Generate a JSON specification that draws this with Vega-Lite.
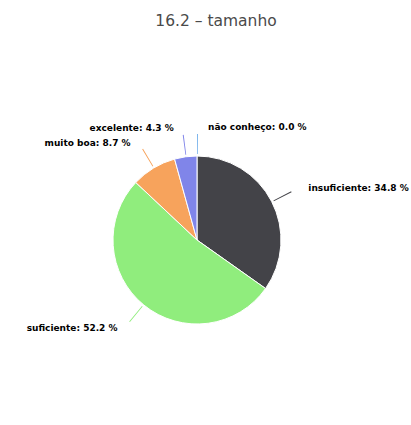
{
  "$schema": "https://vega.github.io/schema/vega-lite/v6.json",
  "width": 394,
  "height": 370,
  "autosize": "none",
  "padding": {"left": 0, "top": 55, "right": 17, "bottom": 0},
  "background": "white",
  "config": {"view": {"stroke": null}},
  "title": {
    "text": "16.2 – tamanho",
    "font": "DejaVu Sans",
    "fontSize": 15.5,
    "fontWeight": "normal",
    "color": "#4a4a4a",
    "anchor": "middle",
    "offset": 26,
    "dx": 19
  },
  "data": {
    "values": [
      {"cat": "não conheço", "value": 0.0, "order": 1},
      {"cat": "insuficiente", "value": 34.8, "order": 2},
      {"cat": "suficiente", "value": 52.2, "order": 3},
      {"cat": "muito boa", "value": 8.7, "order": 4},
      {"cat": "excelente", "value": 4.3, "order": 5}
    ]
  },
  "transform": [
    {"window": [{"op": "sum", "field": "value", "as": "cum"}], "sort": [{"field": "order"}], "frame": [null, 0]},
    {"calculate": "datum.cum - datum.value / 2", "as": "mid"},
    {"calculate": "datum.mid + 0.15", "as": "mid2"},
    {"calculate": "datum.cat + ': ' + format(datum.value, '.1f') + ' %'", "as": "label"}
  ],
  "encoding": {
    "color": {
      "field": "cat",
      "type": "nominal",
      "scale": {
        "domain": ["não conheço", "insuficiente", "suficiente", "muito boa", "excelente"],
        "range": ["#7cb5ec", "#434348", "#90ed7d", "#f7a35c", "#8085e9"]
      },
      "legend": null
    }
  },
  "layer": [
    {
      "mark": {"type": "arc", "outerRadius": 84, "stroke": "white", "strokeWidth": 1},
      "encoding": {
        "theta": {"field": "value", "type": "quantitative", "stack": true, "scale": {"domain": [0, 100]}},
        "order": {"field": "order", "type": "quantitative"}
      }
    },
    {
      "mark": {"type": "arc", "innerRadius": 86, "outerRadius": 106},
      "encoding": {
        "theta": {"field": "mid", "type": "quantitative", "stack": null, "scale": {"domain": [0, 100]}},
        "theta2": {"field": "mid2"}
      }
    },
    {
      "transform": [{"filter": "datum.cat == 'não conheço' || datum.cat == 'insuficiente'"}],
      "mark": {"type": "text", "radius": 113, "align": "left", "baseline": "middle", "dx": 11, "font": "DejaVu Sans", "fontSize": 9, "fontWeight": "bold"},
      "encoding": {
        "theta": {"field": "mid", "type": "quantitative", "stack": null, "scale": {"domain": [0, 100]}},
        "text": {"field": "label"},
        "color": {"value": "#000000"}
      }
    },
    {
      "transform": [{"filter": "datum.cat != 'não conheço' && datum.cat != 'insuficiente'"}],
      "mark": {"type": "text", "radius": 113, "align": "right", "baseline": "middle", "dx": -8, "font": "DejaVu Sans", "fontSize": 9, "fontWeight": "bold"},
      "encoding": {
        "theta": {"field": "mid", "type": "quantitative", "stack": null, "scale": {"domain": [0, 100]}},
        "text": {"field": "label"},
        "color": {"value": "#000000"}
      }
    }
  ]
}
